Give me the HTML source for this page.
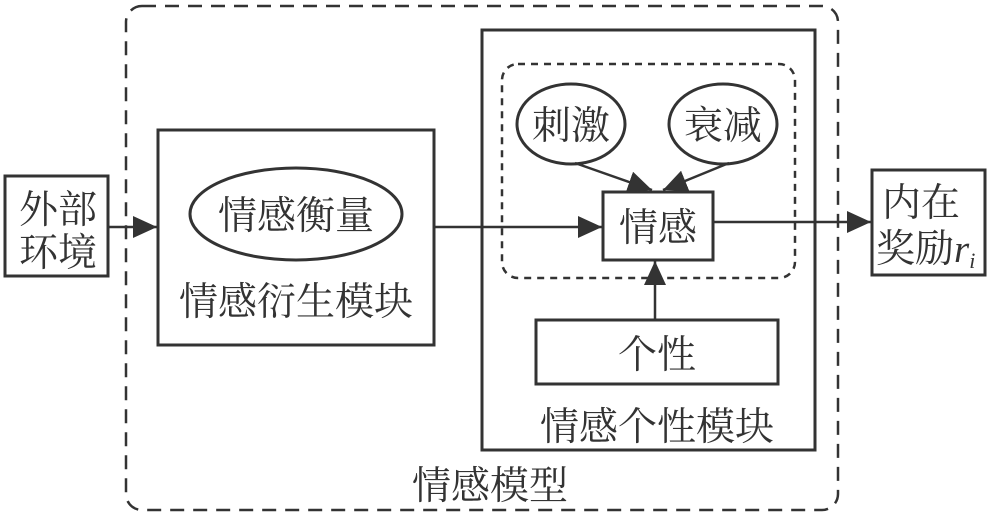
<!DOCTYPE html>
<html><head><meta charset="utf-8"><style>
html,body{margin:0;padding:0;background:#fff;}
svg{display:block}
text{font-family:"Liberation Serif","Noto Serif CJK SC",serif;fill:#333;}
</style></head><body>
<svg width="992" height="516" viewBox="0 0 992 516" xmlns="http://www.w3.org/2000/svg">
<defs>
<marker id="b" markerWidth="24" markerHeight="22" refX="24" refY="11" orient="auto" markerUnits="userSpaceOnUse"><path d="M0,0 L24,11 L0,22z" fill="#333"/></marker></defs>
<g stroke="#333" fill="none">
<rect x="126" y="6" width="712" height="504" rx="16" stroke-width="2.5" stroke-dasharray="14,9"/>
<rect x="5" y="176" width="103" height="100" stroke-width="3" fill="#fff"/>
<rect x="158" y="130" width="276" height="215" stroke-width="3"/>
<ellipse cx="296" cy="214" rx="106" ry="46" stroke-width="3"/>
<rect x="482" y="30" width="333" height="420" stroke-width="3"/>
<rect x="502" y="64" width="293" height="214" rx="16" stroke-width="2.5" stroke-dasharray="7,6"/>
<ellipse cx="571" cy="124" rx="54" ry="40" stroke-width="3"/>
<ellipse cx="723" cy="124" rx="54" ry="40" stroke-width="3"/>
<rect x="603" y="192" width="110" height="68" stroke-width="3" fill="#fff"/>
<rect x="536" y="320" width="242" height="64" stroke-width="3"/>
<rect x="872" y="170" width="113" height="105" stroke-width="3"/>
<line x1="108" y1="227" x2="157" y2="227" stroke-width="2.5" marker-end="url(#b)"/>
<line x1="434" y1="227" x2="602" y2="227" stroke-width="2.5" marker-end="url(#b)"/>
<line x1="713" y1="222" x2="871" y2="222" stroke-width="2.5" marker-end="url(#b)"/>
<line x1="655" y1="320" x2="655" y2="261" stroke-width="2.5" marker-end="url(#b)"/>
<line x1="575" y1="163" x2="652" y2="190" stroke-width="2.5" marker-end="url(#b)"/>
<line x1="729" y1="163" x2="663" y2="190" stroke-width="2.5" marker-end="url(#b)"/>
</g>
<g font-size="39">
<text x="19" y="223">外部</text>
<text x="19" y="266">环境</text>
<text x="296" y="229" text-anchor="middle">情感衡量</text>
<text x="296" y="315" text-anchor="middle">情感衍生模块</text>
<text x="571" y="139" text-anchor="middle">刺激</text>
<text x="723" y="139" text-anchor="middle">衰减</text>
<text x="658" y="241" text-anchor="middle">情感</text>
<text x="657" y="368" text-anchor="middle">个性</text>
<text x="657" y="440" text-anchor="middle">情感个性模块</text>
<text x="490" y="499" text-anchor="middle">情感模型</text>
<text x="882" y="216">内在</text>
<text x="876" y="262">奖励<tspan font-style="italic">r</tspan><tspan font-style="italic" font-size="22" dy="6">i</tspan></text>
</g>
</svg>
</body></html>
